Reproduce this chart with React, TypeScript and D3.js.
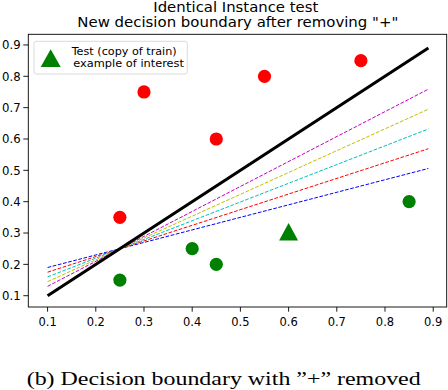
import React from "react";
import * as d3 from "d3";

const xTicks = [0.1, 0.2, 0.3, 0.4, 0.5, 0.6, 0.7, 0.8, 0.9];
const yTicks = [0.1, 0.2, 0.3, 0.4, 0.5, 0.6, 0.7, 0.8, 0.9];

const redX = [0.25, 0.3, 0.45, 0.55, 0.75];
const redY = [0.35, 0.75, 0.6, 0.8, 0.85];
const greenX = [0.25, 0.4, 0.45, 0.85];
const greenY = [0.15, 0.25, 0.2, 0.4];
const testX = [0.6];
const testY = [0.3];

const lineX = [0.1, 0.89];
const boundaryY = [0.1, 0.89];
const dashColors = ["#0000ff", "#ff0000", "#00bfbf", "#bfbf00", "#bf00bf"];
const dashStartY = [0.19, 0.175, 0.16, 0.145, 0.13];
const dashEndY = [0.506, 0.569, 0.632, 0.695, 0.759];

const W = 448;
const H = 390;
const L = 28.3, R = 446.7, T = 34.3, B = 307;

export default function App() {
  const x = d3.scaleLinear().domain([0.06, 0.928]).range([L, R]);
  const y = d3.scaleLinear().domain([0.064, 0.934]).range([B, T]);
  const line = d3.line<[number, number]>().x((d) => x(d[0])).y((d) => y(d[1]));
  const font = "DejaVu Sans, sans-serif";
  const tri = (cx: number, cy: number, w: number, h: number) =>
    `M${cx},${cy - h * 0.58} L${cx + w / 2},${cy + h * 0.42} L${cx - w / 2},${cy + h * 0.42} Z`;

  return (
    <svg width={W} height={H} style={{ position: "absolute", left: 0, top: 0, background: "#fff" }}>
      <rect width={W} height={H} fill="#fff" />
      <text x={153.3} y={11.8} fontFamily={font} fontSize={13.5} textLength={165} lengthAdjust="spacingAndGlyphs">
        Identical Instance test
      </text>
      <text x={77.3} y={27.4} fontFamily={font} fontSize={13.5} textLength={321} lengthAdjust="spacingAndGlyphs">
        New decision boundary after removing "+"
      </text>

      <defs>
        <clipPath id="clip">
          <rect x={L} y={T} width={R - L} height={B - T} />
        </clipPath>
      </defs>

      <g clipPath="url(#clip)">
        {dashColors.map((c, i) => (
          <path
            key={c}
            d={line([[lineX[0], dashStartY[i]], [lineX[1], dashEndY[i]]])!}
            stroke={c}
            strokeWidth={1}
            strokeDasharray="3.7,1.6"
            fill="none"
          />
        ))}
        <path
          d={line([[lineX[0], boundaryY[0]], [lineX[1], boundaryY[1]]])!}
          stroke="#000"
          strokeWidth={3}
          fill="none"
        />
        {redX.map((v, i) => (
          <circle key={"r" + i} cx={x(v)} cy={y(redY[i])} r={6.6} fill="#ff0000" />
        ))}
        {greenX.map((v, i) => (
          <circle key={"g" + i} cx={x(v)} cy={y(greenY[i])} r={6.6} fill="#008000" />
        ))}
        {testX.map((v, i) => (
          <path key={"t" + i} d={tri(x(v), y(testY[i]), 19, 17.5)} fill="#008000" />
        ))}
      </g>

      <rect x={L} y={T} width={R - L} height={B - T} fill="none" stroke="#000" strokeWidth={0.9} />

      {xTicks.map((t) => (
        <g key={"x" + t}>
          <line x1={x(t)} x2={x(t)} y1={B} y2={B + 4.7} stroke="#000" strokeWidth={0.9} />
          <text x={x(t)} y={325.7} textAnchor="middle" fontFamily={font} fontSize={11.5}>
            {t.toFixed(1)}
          </text>
        </g>
      ))}
      {yTicks.map((t) => (
        <g key={"y" + t}>
          <line x1={L - 5} x2={L} y1={y(t)} y2={y(t)} stroke="#000" strokeWidth={0.9} />
          <text x={20.7} y={y(t) + 4.2} textAnchor="end" fontFamily={font} fontSize={11.7}>
            {t.toFixed(1)}
          </text>
        </g>
      ))}

      <rect x={34} y={41.3} width={153.3} height={32.7} rx={2} fill="#fff" fillOpacity={0.8} stroke="#d6d6d6" strokeWidth={0.9} />
      <path d={tri(50.7, 59.5, 20, 17.6)} fill="#008000" />
      <text x={71.7} y={55.3} fontFamily={font} fontSize={11} textLength={105} lengthAdjust="spacingAndGlyphs">
        Test (copy of train)
      </text>
      <text x={73.3} y={67.3} fontFamily={font} fontSize={11} textLength={110.7} lengthAdjust="spacingAndGlyphs">
        example of interest
      </text>

      <text
        x={26.7}
        y={385}
        fontFamily="Liberation Serif, Times New Roman, serif"
        fontSize={18.6}
        textLength={394}
        lengthAdjust="spacingAndGlyphs"
      >
        (b) Decision boundary with ”+” removed
      </text>
    </svg>
  );
}
